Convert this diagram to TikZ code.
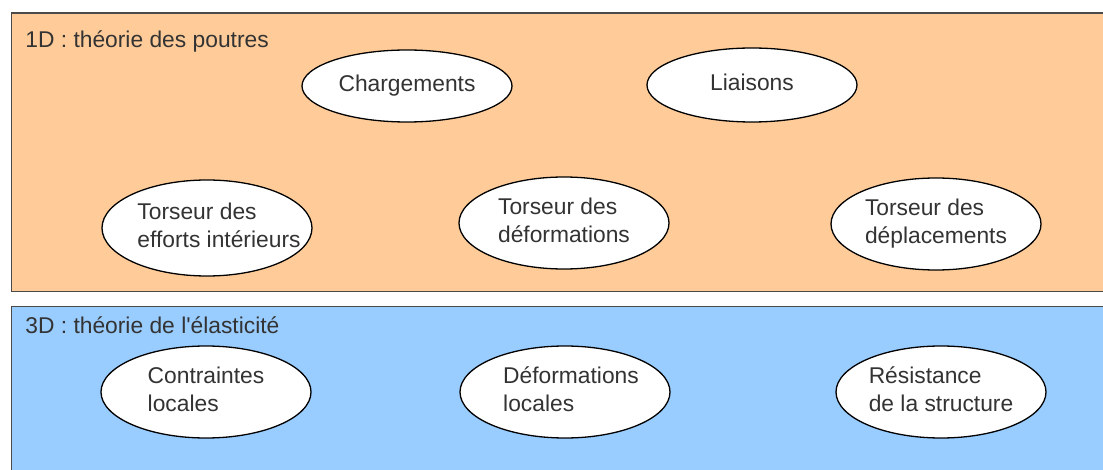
\documentclass[tikz,border=0pt]{standalone}
\usepackage{fontspec}
\setmainfont{Liberation Sans}
\usetikzlibrary{shapes.geometric}
\definecolor{fondpoutre}{HTML}{FFCC99}
\definecolor{fondelast}{HTML}{99CCFF}
\definecolor{bord}{HTML}{4A4A4A}
\definecolor{texte}{HTML}{333333}
% texte d'une bulle, sans largeur propre
\newcommand{\bulle}[1]{\makebox[0pt]{\begin{tabular}{@{}l@{}}#1\end{tabular}}}
\begin{document}
\begin{tikzpicture}[x=0.5pt, y=-0.5pt,
        oval/.style={ellipse, draw=black, fill=white, line width=0.65pt, inner sep=0pt,
                minimum width=105pt, minimum height=46pt, text=texte,
                font=\fontsize{11.4}{13.6}\selectfont},
        titre/.style={anchor=base west, inner sep=0pt, text=texte,
                font=\fontsize{11.4}{13.6}\selectfont}]
        \useasboundingbox (0,0) rectangle (1103,470);
        % les deux cadres
        \draw [bord, fill=fondpoutre, line width=0.8pt](11.5,13)rectangle(1120,291.5);
        \draw [bord, fill=fondelast, line width=0.8pt](11.5,306.5)rectangle(1120,490);
        \node [titre] (titre1D) at (25,48){1D : théorie des poutres};
        \node [titre] (titre3D) at (25,334){3D : théorie de l\textquotesingle élasticité};
        % bulles 1D
        \node [oval, minimum height=36pt] (charg) at (407,86){\bulle{Chargements}};
        \node [oval, minimum height=37pt] (liais) at (752,85){\bulle{Liaisons}};
        \node [oval, minimum height=48pt] (efforts) at (207,228){\bulle{\hspace*{12pt}Torseur des\\\hspace*{12pt}efforts intérieurs}};
        \node [oval] (deform) at (564,223){\bulle{Torseur des\\déformations}};
        \node [oval] (deplac) at (936,224){\bulle{Torseur des\\déplacements}};
        % bulles 3D
        \foreach \nom/\x/\txt in {contr/206/{Contraintes\\locales}, deflo/565/{\hspace*{6pt}Déformations\\\hspace*{6pt}locales}, resist/941/{Résistance\\de la structure}}
        {
                \node [oval] (\nom) at (\x,392){\bulle{\txt}};
        }
\end{tikzpicture}
\end{document}
